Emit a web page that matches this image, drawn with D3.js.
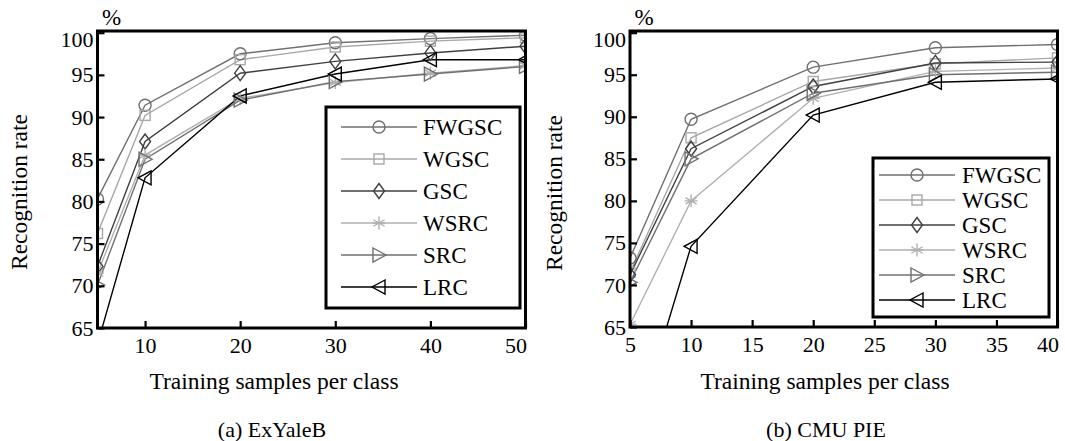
<!DOCTYPE html>
<html><head><meta charset="utf-8">
<script src="https://cdn.jsdelivr.net/npm/d3@7"></script>
<style>
body{margin:0;background:#fff;}
svg{display:block;font-family:"Liberation Serif","Times New Roman",serif;}
</style></head>
<body><svg id="c" width="1065" height="441"></svg>
<script>
const seriesNames = ["FWGSC","WGSC","GSC","WSRC","SRC","LRC"];
const seriesColors = ["#707070","#a8a8a8","#404040","#b0b0b0","#707070","#000000"];
const seriesMarkers = ["circle","square","diamond","asterisk","triRight","triLeft"];

const xA = [5,10,20,30,40,50];
const fwgscA = [80.3, 91.4, 97.5, 98.8, 99.3, 99.7];
const wgscA  = [76.2, 90.2, 96.8, 98.3, 99.0, 99.4];
const gscA   = [72.3, 87.1, 95.2, 96.6, 97.6, 98.4];
const wsrcA  = [71.5, 85.5, 92.2, 94.1, 95.2, 96.1];
const srcA   = [70.1, 85.0, 92.0, 94.2, 95.1, 96.0];
const lrcA   = [63.1, 82.8, 92.5, 95.1, 96.8, 96.8];

const xB = [5,10,20,30,40];
const fwgscB = [73.2, 89.7, 95.9, 98.2, 98.6];
const wgscB  = [71.5, 87.5, 94.2, 96.3, 97.0];
const gscB   = [71.2, 86.2, 93.6, 96.4, 96.5];
const wsrcB  = [65.3, 80.0, 92.2, 95.4, 95.8];
const srcB   = [70.3, 85.0, 92.8, 95.0, 95.3];
const lrcB   = [50.6, 74.6, 90.2, 94.1, 94.5];

const yTicks = [65,70,75,80,85,90,95,100];
const xTicksA = [10,20,30,40,50];
const xTicksB = [5,10,15,20,25,30,35,40];

const svg = d3.select("#c");

function marker(g, type, color){
  const s = g.append("g").attr("fill","none").attr("stroke",color).attr("stroke-width",1.4);
  if(type==="circle") s.append("circle").attr("r",6);
  else if(type==="square") s.append("rect").attr("x",-5).attr("y",-5).attr("width",10).attr("height",10);
  else if(type==="diamond") s.append("path").attr("d","M0,-7.5L5.5,0L0,7.5L-5.5,0Z");
  else if(type==="asterisk"){
    s.append("path").attr("d","M0,-6.5L0,6.5M-5.6,-3.25L5.6,3.25M-5.6,3.25L5.6,-3.25M-6.5,0L6.5,0");
  }
  else if(type==="triRight") s.append("path").attr("d","M-6,-7L7,0L-6,7Z");
  else if(type==="triLeft") s.append("path").attr("d","M6,-7L-7,0L6,7Z");
}

function panel(cfg){
  const x = d3.scaleLinear().domain(cfg.xDomain).range([cfg.left, cfg.right]);
  const y = d3.scaleLinear().domain([65,100.2]).range([cfg.bottom, cfg.top]);
  const g = svg.append("g");
  const clipId = "clip"+cfg.id;
  svg.append("clipPath").attr("id",clipId).append("rect")
    .attr("x",cfg.left).attr("y",cfg.top).attr("width",cfg.right-cfg.left).attr("height",cfg.bottom-cfg.top);

  const plot = g.append("g").attr("clip-path",`url(#${clipId})`);
  const line = d3.line().x(d=>x(d[0])).y(d=>y(d[1]));
  cfg.series.forEach((vals,i)=>{
    const pts = cfg.xs.map((xv,j)=>[xv,vals[j]]);
    plot.append("path").attr("d",line(pts)).attr("fill","none")
      .attr("stroke",seriesColors[i]).attr("stroke-width",1.4);
  });
  cfg.series.forEach((vals,i)=>{
    cfg.xs.forEach((xv,j)=>{
      const m = plot.append("g").attr("transform",`translate(${x(xv)},${y(vals[j])})`);
      marker(m, seriesMarkers[i], seriesColors[i]);
    });
  });

  // axes
  const ya = g.append("g").attr("transform",`translate(${cfg.left},0)`)
    .call(d3.axisLeft(y).tickValues(yTicks).tickSize(-7).tickPadding(4).tickFormat(d3.format("d")));
  ya.select(".domain").remove();
  ya.selectAll(".tick line").attr("stroke","#000").attr("stroke-width",2.2);
  ya.selectAll(".tick text").attr("font-size",22).attr("font-family","Liberation Serif").attr("fill","#000")
    .attr("dy",d=> d===100 ? "0.62em" : "0.32em");

  const xa = g.append("g").attr("transform",`translate(0,${cfg.bottom})`)
    .call(d3.axisBottom(x).tickValues(cfg.xTicks).tickSize(-7).tickPadding(9).tickFormat(d3.format("d")));
  xa.select(".domain").remove();
  xa.selectAll(".tick line").attr("stroke","#000").attr("stroke-width",2.2);
  xa.selectAll(".tick text").attr("font-size",22).attr("font-family","Liberation Serif").attr("fill","#000")
    .attr("dx",d=> d===cfg.xDomain[1] ? "-0.45em" : 0);

  // frame
  g.append("rect").attr("x",cfg.left).attr("y",cfg.top).attr("width",cfg.right-cfg.left).attr("height",cfg.bottom-cfg.top)
    .attr("fill","none").attr("stroke","#000").attr("stroke-width",3);

  // percent
  g.append("text").attr("x",cfg.left+14).attr("y",cfg.top-6).attr("text-anchor","middle")
    .attr("font-size",23).text("%");

  // axis titles
  g.append("text").attr("transform",`translate(${cfg.yTitleX},${cfg.yTitleY}) rotate(-90)`)
    .attr("text-anchor","middle").attr("font-size",23.5).text("Recognition rate");
  g.append("text").attr("x",cfg.xTitleX).attr("y",389).attr("text-anchor","middle")
    .attr("font-size",23.5).text("Training samples per class");
  g.append("text").attr("x",cfg.subX).attr("y",437).attr("text-anchor","middle")
    .attr("font-size",22).text(cfg.sub);

  // legend
  const L = cfg.legend;
  const lg = g.append("g");
  lg.append("rect").attr("x",L.x0).attr("y",L.y0).attr("width",L.x1-L.x0).attr("height",L.y1-L.y0)
    .attr("fill","#fff").attr("stroke","#000").attr("stroke-width",3);
  seriesNames.forEach((n,i)=>{
    const yy = L.firstY + i*L.step;
    lg.append("line").attr("x1",L.lx1).attr("x2",L.lx2).attr("y1",yy).attr("y2",yy)
      .attr("stroke",seriesColors[i]).attr("stroke-width",1.5);
    const m = lg.append("g").attr("transform",`translate(${(L.lx1+L.lx2)/2},${yy})`);
    marker(m, seriesMarkers[i], seriesColors[i]);
    lg.append("text").attr("x",L.tx).attr("y",yy).attr("dy","0.35em").attr("font-size",23).text(n);
  });
}

panel({id:"A", xDomain:[5,50], xs:xA, series:[fwgscA,wgscA,gscA,wsrcA,srcA,lrcA],
  left:97.5, right:525.5, top:31, bottom:328, xTicks:xTicksA,
  yTitleX:27, yTitleY:192, xTitleX:274, subX:272, sub:"(a) ExYaleB",
  legend:{x0:326,y0:107,x1:520,y1:308,firstY:127,step:32,lx1:341,lx2:417,tx:423}});

panel({id:"B", xDomain:[5,40], xs:xB, series:[fwgscB,wgscB,gscB,wsrcB,srcB,lrcB],
  left:630, right:1057.5, top:31, bottom:327, xTicks:xTicksB,
  yTitleX:562, yTitleY:193, xTitleX:825, subX:826, sub:"(b) CMU PIE",
  legend:{x0:873,y0:158,x1:1049,y1:317,firstY:175,step:25,lx1:879,lx2:955,tx:962}});
</script>
</body></html>
